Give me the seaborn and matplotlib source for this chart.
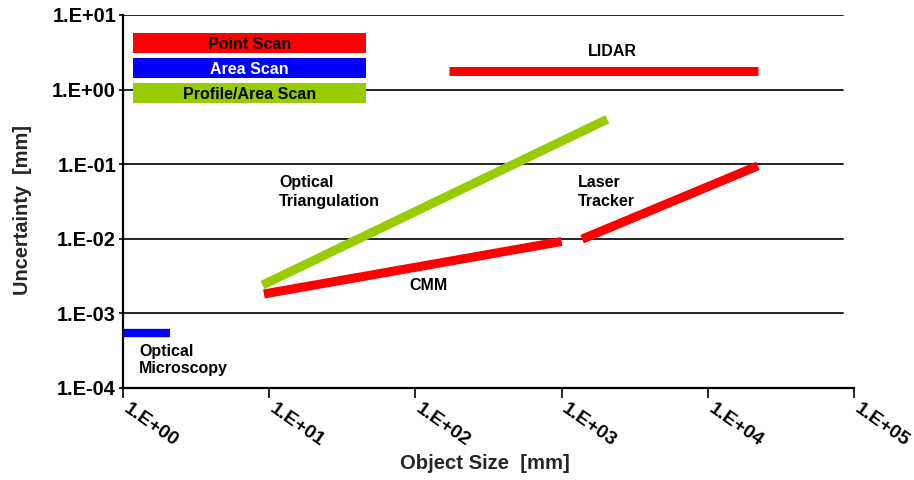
import matplotlib
matplotlib.use("Agg")
import matplotlib.pyplot as plt
import matplotlib.transforms as mtransforms
import seaborn as sns
import pandas as pd

# ---- data -------------------------------------------------------------
# measurement technique ranges: (object size [mm], uncertainty [mm]) end points
seg_names = ["Optical Triangulation", "CMM", "Laser Tracker", "LIDAR", "Optical Microscopy"]
seg_x0 = [9.0, 9.2, 1380, 170, 1.0]
seg_x1 = [2050, 1000, 22000, 22000, 2.1]
seg_y0 = [0.0024, 0.00182, 0.0099, 1.75, 0.00055]
seg_y1 = [0.40, 0.0092, 0.095, 1.75, 0.00055]
seg_kind = ["Profile/Area Scan", "Point Scan", "Point Scan", "Point Scan", "Area Scan"]

# legend bars (scan type)
leg_names = ["Point Scan", "Area Scan", "Profile/Area Scan"]
leg_x0 = [1.17, 1.17, 1.17]
leg_x1 = [45.9, 45.9, 45.9]
leg_y = [4.2, 1.95, 0.9]

x_ticks = [1e0, 1e1, 1e2, 1e3, 1e4, 1e5]
x_ticklabels = ["1.E+00", "1.E+01", "1.E+02", "1.E+03", "1.E+04", "1.E+05"]
y_ticks = [1e-4, 1e-3, 1e-2, 1e-1, 1e0, 1e1]
y_ticklabels = ["1.E-04", "1.E-03", "1.E-02", "1.E-01", "1.E+00", "1.E+01"]

# ---- styling ----------------------------------------------------------
sns.set_style("white")
plt.rcParams["font.family"] = ["Liberation Sans", "DejaVu Sans"]

colors = {"Point Scan": "#FF0000", "Area Scan": "#0000FF", "Profile/Area Scan": "#99CC00"}
text_colors = {"Point Scan": "black", "Area Scan": "white", "Profile/Area Scan": "black"}

fig = plt.figure(figsize=(9.14, 4.80), dpi=100)
ax = fig.add_axes([0.1346, 0.1917, 0.7998, 0.7771])
ax.set_xscale("log")
ax.set_yscale("log")
ax.set_xlim(1, 1e5)
ax.set_ylim(1e-4, 1e1)

# horizontal grid at each decade
for yv in y_ticks[1:]:
    ax.axhline(yv, xmin=0, xmax=0.985, color="#222222", lw=1.4, zorder=1)

# technique segments
rows = []
for name, x0, x1, y0, y1, kind in zip(seg_names, seg_x0, seg_x1, seg_y0, seg_y1, seg_kind):
    rows.append({"name": name, "kind": kind, "x": x0, "y": y0})
    rows.append({"name": name, "kind": kind, "x": x1, "y": y1})
segs = pd.DataFrame(rows)
for name, grp in segs.groupby("name", sort=False):
    kind = grp["kind"].iloc[0]
    lw = 6.0 if name == "Optical Microscopy" else 6.5
    sns.lineplot(data=grp, x="x", y="y", ax=ax, color=colors[kind], lw=lw,
                 sort=False, estimator=None, solid_capstyle="butt", zorder=3)

# legend bars with their captions
legs = pd.DataFrame({"name": leg_names * 2, "x": leg_x0 + leg_x1, "y": leg_y * 2})
for name, grp in legs.groupby("name", sort=False):
    sns.lineplot(data=grp, x="x", y="y", ax=ax, color=colors[name], lw=14.4,
                 sort=False, estimator=None, solid_capstyle="butt", zorder=3)
for name, x0, x1, yv in zip(leg_names, leg_x0, leg_x1, leg_y):
    xc = (x0 * x1) ** 0.5
    ax.text(xc, yv * 0.95, name, ha="center", va="center", fontsize=11.5,
            fontweight="bold", color=text_colors[name], zorder=4)

# technique captions
lab_kw = dict(fontsize=11.5, fontweight="bold", color="black", linespacing=1.3, zorder=4)
ax.text(11.7, 0.0424, "Optical\nTriangulation", ha="left", va="center", **lab_kw)
ax.text(1295, 0.0424, "Laser\nTracker", ha="left", va="center", **lab_kw)
ax.text(122, 0.0024, "CMM", ha="center", va="center", **lab_kw)
ax.text(2212, 3.19, "LIDAR", ha="center", va="center", **lab_kw)
ax.text(1.29, 0.000237, "Optical\nMicroscopy", ha="left", va="center",
        **{**lab_kw, "linespacing": 1.2})

# axes
ax.set_xticks(x_ticks)
ax.set_xticklabels(x_ticklabels)
ax.set_yticks(y_ticks)
ax.set_yticklabels(y_ticklabels)
ax.minorticks_off()
for s in ["top", "right"]:
    ax.spines[s].set_visible(False)
for s in ["left", "bottom"]:
    ax.spines[s].set_color("black")
    ax.spines[s].set_linewidth(1.6)

ax.tick_params(axis="y", direction="out", length=3, width=1.2, pad=2, left=True,
               labelsize=14.4, colors="black")
ax.tick_params(axis="x", direction="out", length=7, width=1.2, pad=2, bottom=True,
               labelsize=14, colors="black")
for lbl in ax.get_yticklabels():
    lbl.set_fontweight("bold")
shift = mtransforms.ScaledTranslation(5 / 72, 0, fig.dpi_scale_trans)
for lbl in ax.get_xticklabels():
    lbl.set_fontweight("bold")
    lbl.set_rotation(-35)
    lbl.set_ha("left")
    lbl.set_va("top")
    lbl.set_rotation_mode("anchor")
    lbl.set_transform(lbl.get_transform() + shift)

ax.set_xlabel("Object Size  [mm]", fontsize=14.6, fontweight="bold")
ax.set_ylabel("Uncertainty  [mm]", fontsize=14.4, fontweight="bold")
ax.xaxis.set_label_coords(0.495, -0.178)
ax.yaxis.set_label_coords(-0.1245, 0.477)

fig.savefig("out.png", dpi=100)
